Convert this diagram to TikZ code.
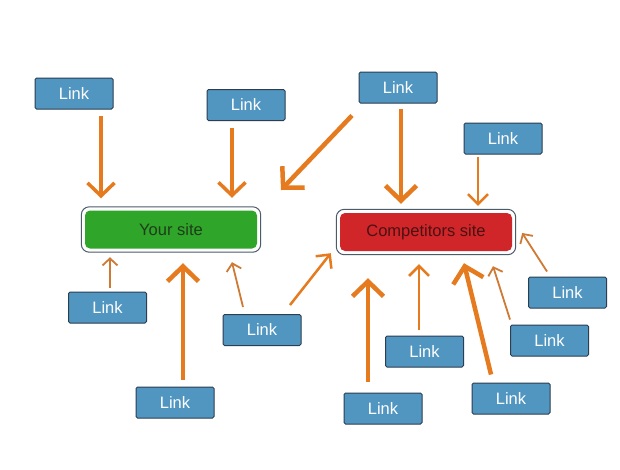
\documentclass[tikz,border=0pt]{standalone}
\usepackage{fontspec}
\setmainfont{Liberation Sans}
\usepackage{tikz}
\usetikzlibrary{positioning,arrows.meta,fit,calc}
\definecolor{linkBlue}{HTML}{5096C0}
\definecolor{linkEdge}{HTML}{2C3E50}
\definecolor{siteGreen}{HTML}{2FA52A}
\definecolor{siteRed}{HTML}{D0262A}
\definecolor{textGreen}{HTML}{1E3D1A}
\definecolor{textRed}{HTML}{4A1212}
\definecolor{arrowOrange}{HTML}{E57A1E}
\definecolor{arrowBrown}{HTML}{CF7A34}
\tikzset{
  linkbox/.style={draw=linkEdge, line width=1pt, rounded corners=1.5pt, fill=linkBlue, text=white, minimum width=78pt, minimum height=31pt, inner sep=0pt, font=\fontsize{16.5}{18}\selectfont},
  sitebox/.style={rounded corners=5pt, minimum width=172pt, minimum height=38pt, inner sep=0pt, font=\fontsize{16.5}{18}\selectfont},
  siteGreenBox/.style={sitebox, fill=siteGreen, text=textGreen},
  siteRedBox/.style={sitebox, fill=siteRed, text=textRed},
  siteRing/.style={draw=linkEdge!85, line width=1pt, rounded corners=8pt, inner sep=3.5pt},
  thinlink/.style={-{Straight Barb[length=7pt, width=15pt]}, line width=1.8pt, draw=arrowBrown},
  midlink/.style={-{Straight Barb[length=10pt, width=20pt]}, line width=2.5pt, draw=arrowOrange},
  boldlink/.style={-{Straight Barb[length=13pt, width=27pt]}, line width=3.5pt, draw=arrowOrange},
  heavylink/.style={-{Straight Barb[length=15pt, width=31pt]}, line width=4.5pt, draw=arrowOrange}
}
\begin{document}
\begin{tikzpicture}[x=1pt, y=-1pt]
  \useasboundingbox[fill=white] (0,0) rectangle (620,469);

  % the two sites
  \node[siteGreenBox] (you) at (171,229.5) {Your site};
  \node[siteRing, fit=(you)] (youRing) {};
  \node[siteRedBox] (comp) at (426,232) {Competitors site};
  \node[siteRing, fit=(comp)] (compRing) {};

  % links
  \node[linkbox] (l1) at (74,93.5) {Link};
  \node[linkbox] (l2) at (246,105) {Link};
  \node[linkbox] (l3) at (398,87.5) {Link};
  \node[linkbox] (l4) at (503,138.5) {Link};
  \node[linkbox] (l5) at (107.5,307.5) {Link};
  \node[linkbox] (l6) at (175,402.5) {Link};
  \node[linkbox] (l7) at (262,330) {Link};
  \node[linkbox] (l8) at (383,408.5) {Link};
  \node[linkbox] (l9) at (424.5,351.5) {Link};
  \node[linkbox] (l10) at (511,398.5) {Link};
  \node[linkbox] (l11) at (549.5,340.5) {Link};
  \node[linkbox] (l12) at (567.5,292.5) {Link};
  \coordinate (aim) at (281,190);

  % links into your site
  \draw[boldlink, shorten <=6pt, shorten >=12pt] ([xshift=27pt]l1.south) -- ([xshift=-70pt]you.north);
  \draw[boldlink, shorten <=6.5pt, shorten >=12.5pt] ([xshift=-14pt]l2.south) -- ([xshift=61pt]you.north);
  \draw[thinlink, shorten <=4pt, shorten >=8.5pt] ([xshift=2.5pt]l5.north) -- ([xshift=-61pt]you.south);
  \draw[heavylink, shorten <=7pt, shorten >=14.5pt] ([xshift=8pt]l6.north) -- ([xshift=12pt]you.south);
  \draw[thinlink] ($(l7.north)+(-19,-7)$) -- ($(you.south)+(61,13.5)$);
  \draw[heavylink] ($(l3.south)+(-46,12)$) -- (aim);

  % links into the competitors site
  \draw[heavylink, shorten <=5pt, shorten >=9pt] ([xshift=3pt]l3.south) -- ([xshift=-25pt]comp.north);
  \draw[midlink, shorten <=2pt, shorten >=7pt] ([xshift=-25pt]l4.south) -- ([xshift=52pt]comp.north);
  \draw[midlink] ($(l7.north)+(28,-9)$) -- ($(comp.south west)+(-9,2)$);
  \draw[heavylink, shorten <=11pt, shorten >=27pt] ([xshift=-15pt]l8.north) -- ([xshift=-58pt]comp.south);
  \draw[midlink, shorten <=6pt, shorten >=13pt] ([xshift=-5.5pt]l9.north) -- ([xshift=-7pt]comp.south);
  \draw[heavylink] ($(l10.north)+(-20,-8)$) -- ($(comp.south)+(38,12)$);
  \draw[thinlink] ($(l11.north)+(-39.5,-5)$) -- ($(comp.south)+(67,15)$);
  \draw[thinlink] ($(l12.north)+(-20.5,-5)$) -- ($(comp.east)+(10,1)$);
\end{tikzpicture}
\end{document}
